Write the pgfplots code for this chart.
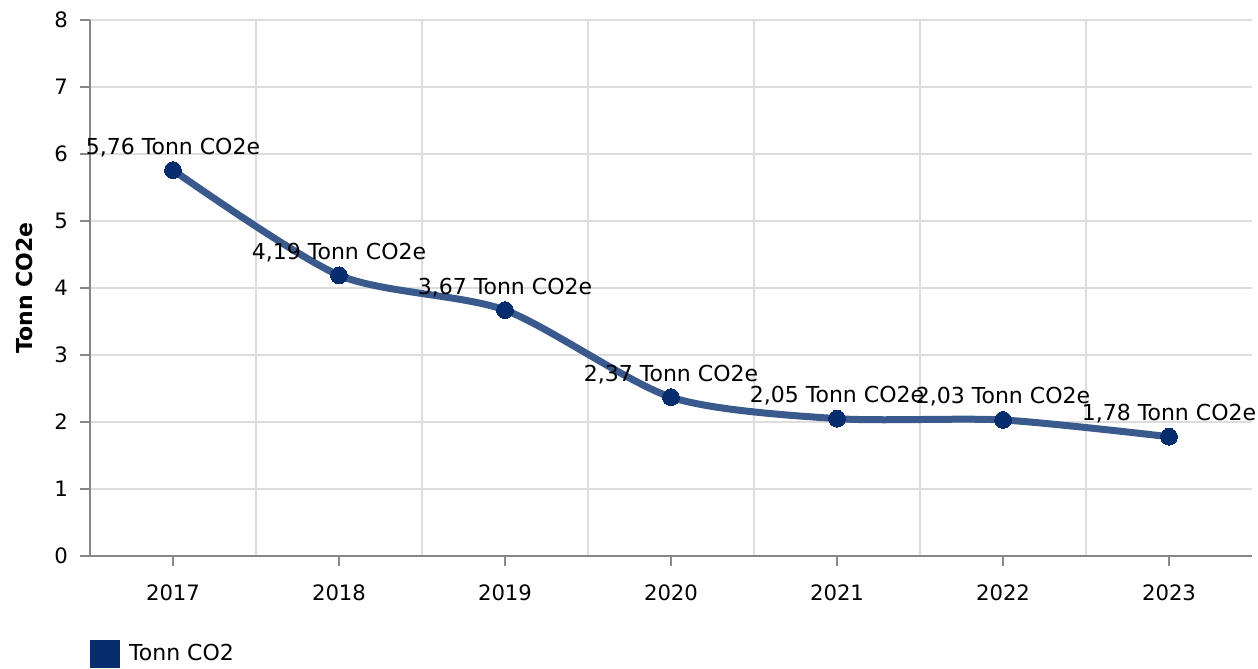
\documentclass[border=0pt]{standalone}
\usepackage{pgfplots}
\pgfplotsset{compat=1.18}
\usepackage{fontspec}
\setmainfont{DejaVu Sans}

\definecolor{co2line}{RGB}{58,89,140}
\definecolor{co2mark}{RGB}{8,45,110}
\definecolor{gridgray}{RGB}{221,221,221}
\definecolor{axisgray}{RGB}{136,136,136}

\begin{document}
\begin{tikzpicture}
\begin{axis}[
  scale only axis,
  width=581pt, height=268pt,
  xmin=-0.5, xmax=6.5,
  ymin=0, ymax=8,
  xtick={0,1,2,3,4,5,6},
  xticklabels={2017,2018,2019,2020,2021,2022,2023},
  minor xtick={0.5,1.5,2.5,3.5,4.5,5.5},
  ytick={0,1,...,8},
  axis x line=bottom, axis y line=left,
  axis line style={-, axisgray, line width=0.6pt},
  tick style={axisgray, line width=0.6pt},
  tick align=outside,
  major tick length=5pt, minor tick length=0pt,
  xmajorgrids=false, xminorgrids=true, ymajorgrids=true,
  grid style={gridgray, line width=0.6pt},
  minor grid style={gridgray, line width=0.6pt},
  tick label style={font=\fontsize{10.6}{12}\selectfont},
  /pgf/number format/assume math mode=true,
  xticklabel style={yshift=-6pt},
  yticklabel style={xshift=-2.5pt},
  ylabel={Tonn CO2e},
  ylabel style={font=\fontsize{11}{13}\selectfont\bfseries,
    at={(axis description cs:-0.056,0.5)}, anchor=center, rotate=0},
  clip=false,
  legend style={at={(rel axis cs:0,0)}, anchor=north west, yshift=-42pt,
    draw=none, fill=none, inner sep=0pt,
    font=\fontsize{11}{13}\selectfont,
    nodes={inner xsep=4.5pt}},
  legend cell align=left,
]
\addplot[co2line, line width=3.5pt, smooth, tension=0.45,
  mark=*, mark size=4.2pt, mark options={fill=co2mark, draw=co2mark, line width=0pt},
  point meta=explicit symbolic,
  nodes near coords,
  every node near coord/.append style={anchor=base, yshift=8pt,
    font=\fontsize{11}{13}\selectfont, text=black, inner sep=0pt},
  forget plot]
  coordinates {
  (0,5.76) [{5,76 Tonn CO2e}]
  (1,4.19) [{4,19 Tonn CO2e}]
  (2,3.67) [{3,67 Tonn CO2e}]
  (3,2.37) [{2,37 Tonn CO2e}]
  (4,2.05) [{2,05 Tonn CO2e}]
  (5,2.03) [{2,03 Tonn CO2e}]
  (6,1.78) [{1,78 Tonn CO2e}]
  };
\addlegendimage{legend image code/.code={
  \fill[co2mark] (0pt,-6.75pt) rectangle (14.5pt,6.75pt);}}
\addlegendentry{Tonn CO2}
\path (rel axis cs:0,0) ++(-45pt,-56pt) coordinate (bbsw);
\path (rel axis cs:1,1) ++(3pt,10pt) coordinate (bbne);
\path (bbsw) (bbne);
\end{axis}
\end{tikzpicture}
\end{document}
